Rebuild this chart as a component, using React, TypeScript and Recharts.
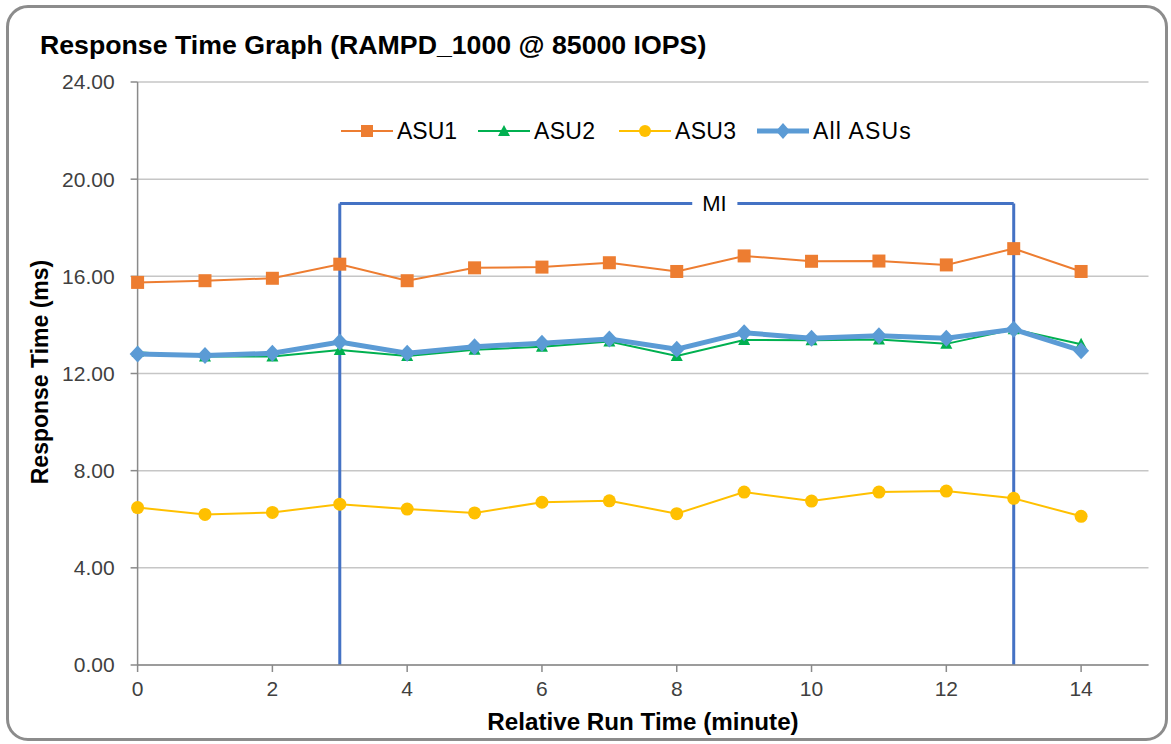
import React from 'react';
import { LineChart, Line, XAxis, YAxis, CartesianGrid, ReferenceLine, ReferenceDot } from 'recharts';

const minutes = [0, 1, 2, 3, 4, 5, 6, 7, 8, 9, 10, 11, 12, 13, 14];
const asu1 = [15.75, 15.82, 15.92, 16.5, 15.82, 16.35, 16.38, 16.56, 16.2, 16.84, 16.62, 16.63, 16.47, 17.14, 16.2];
const asu2 = [12.88, 12.7, 12.7, 12.97, 12.72, 12.98, 13.1, 13.32, 12.72, 13.38, 13.37, 13.4, 13.22, 13.82, 13.2];
const asu3 = [6.48, 6.2, 6.28, 6.62, 6.42, 6.26, 6.7, 6.76, 6.23, 7.12, 6.75, 7.12, 7.16, 6.86, 6.12];
const allAsus = [12.8, 12.74, 12.83, 13.3, 12.83, 13.1, 13.25, 13.42, 13.0, 13.68, 13.45, 13.55, 13.45, 13.82, 12.94];
const yTicks = [0, 4, 8, 12, 16, 20, 24];
const xTicks = [0, 2, 4, 6, 8, 10, 12, 14];
const miStart = 3;
const miEnd = 13;
const miLevel = 19;
const miLabelX = 8.56;
const miGapLeft = 8.23;
const miGapRight = 8.9;

const data = minutes.map((m, i) => ({ m, asu1: asu1[i], asu2: asu2[i], asu3: asu3[i], all: allAsus[i] }));

const C1 = '#ED7D31';
const C2 = '#00B050';
const C3 = '#FFC000';
const C4 = '#5B9BD5';
const CMI = '#4472C4';
const FONT = 'Arial, "Liberation Sans", sans-serif';

const Square = (p: any) => <rect key={`s${p.index}`} x={p.cx - 6.5} y={p.cy - 6.5} width={13} height={13} fill={C1} />;
const Tri = (p: any) => (
  <polygon key={`t${p.index}`} points={`${p.cx},${p.cy - 6.5} ${p.cx + 6},${p.cy + 5} ${p.cx - 6},${p.cy + 5}`} fill={C2} />
);
const Circ = (p: any) => <circle key={`c${p.index}`} cx={p.cx} cy={p.cy} r={6.5} fill={C3} />;
const Diam = (p: any) => (
  <polygon key={`d${p.index}`} points={`${p.cx},${p.cy - 8.5} ${p.cx + 8},${p.cy} ${p.cx},${p.cy + 8.5} ${p.cx - 8},${p.cy}`} fill={C4} />
);

const legendItems = [
  { name: 'ASU1', color: C1, width: 2, marker: 'square', left: 341, spacing: 0 },
  { name: 'ASU2', color: C2, width: 2, marker: 'tri', left: 478, spacing: 0.3 },
  { name: 'ASU3', color: C3, width: 2, marker: 'circle', left: 619, spacing: 0.3 },
  { name: 'All ASUs', color: C4, width: 5, marker: 'diamond', left: 757, spacing: 1.2 },
];

const LegendBox = () => (
  <>
    {legendItems.map((it) => (
      <div
        key={it.name}
        style={{
          position: 'absolute',
          left: it.left,
          top: 120,
          display: 'flex',
          alignItems: 'center',
          fontFamily: FONT,
          fontSize: 23,
          color: '#000',
          whiteSpace: 'nowrap',
        }}
      >
        <svg width={52} height={22}>
          <line x1={0} y1={11} x2={52} y2={11} stroke={it.color} strokeWidth={it.width} />
          {it.marker === 'square' && <rect x={20} y={5} width={12} height={12} fill={it.color} />}
          {it.marker === 'tri' && <polygon points="26,5 32,16 20,16" fill={it.color} />}
          {it.marker === 'circle' && <circle cx={26} cy={11} r={6} fill={it.color} />}
          {it.marker === 'diamond' && <polygon points="26,3 33,11 26,19 19,11" fill={it.color} />}
        </svg>
        <span style={{ marginLeft: 4, lineHeight: '22px', letterSpacing: it.spacing }}>{it.name}</span>
      </div>
    ))}
  </>
);

export default function App() {
  return (
    <div style={{ position: 'absolute', left: 0, top: 0, width: 1171, height: 744, background: '#fff', overflow: 'hidden' }}>
      <div
        style={{
          position: 'absolute',
          left: 6,
          top: 5,
          width: 1162,
          height: 736,
          border: '3px solid #8c8c8c',
          borderRadius: 22,
          boxSizing: 'border-box',
        }}
      />
      <div
        style={{
          position: 'absolute',
          left: 40,
          top: 31,
          fontFamily: FONT,
          fontWeight: 'bold',
          fontSize: 26.7,
          lineHeight: '28px',
          color: '#000',
          whiteSpace: 'nowrap',
        }}
      >
        Response Time Graph (RAMPD_1000 @ 85000 IOPS)
      </div>
      <div
        style={{
          position: 'absolute',
          left: 40,
          top: 372,
          transform: 'translate(-50%, -50%) rotate(-90deg)',
          fontFamily: FONT,
          fontWeight: 'bold',
          fontSize: 23,
          lineHeight: '24px',
          color: '#000',
          whiteSpace: 'nowrap',
        }}
      >
        Response Time (ms)
      </div>
      <div
        style={{
          position: 'absolute',
          left: 643,
          top: 722,
          transform: 'translate(-50%, -50%)',
          fontFamily: FONT,
          fontWeight: 'bold',
          fontSize: 24.2,
          lineHeight: '26px',
          color: '#000',
          whiteSpace: 'nowrap',
        }}
      >
        Relative Run Time (minute)
      </div>
      <div style={{ position: 'absolute', left: 0, top: 0 }}>
        <LineChart width={1171} height={744} data={data} margin={{ top: 82, right: 22.5, bottom: 49, left: 77.6 }}>
          <CartesianGrid horizontal vertical={false} stroke="#c6c6c6" strokeWidth={1.5} />
          <XAxis
            dataKey="m"
            type="number"
            domain={[0, 15]}
            ticks={xTicks}
            height={30}
            stroke="#8a8a8a"
            strokeWidth={1.5}
            tickSize={7}
            tickMargin={9}
            tick={{ fill: '#404040', fontSize: 21, fontFamily: FONT }}
            allowDecimals={false}
          />
          <YAxis
            type="number"
            domain={[0, 24]}
            ticks={yTicks}
            width={60}
            stroke="#8a8a8a"
            strokeWidth={1.5}
            tickSize={7}
            tickMargin={16}
            tickFormatter={(v: number) => v.toFixed(2)}
            tick={{ fill: '#404040', fontSize: 21, fontFamily: FONT }}
          />
          <ReferenceLine segment={[{ x: miStart, y: 0 }, { x: miStart, y: miLevel }]} stroke={CMI} strokeWidth={3} ifOverflow="visible" />
          <ReferenceLine segment={[{ x: miEnd, y: 0 }, { x: miEnd, y: miLevel }]} stroke={CMI} strokeWidth={3} ifOverflow="visible" />
          <ReferenceLine segment={[{ x: miStart, y: miLevel }, { x: miGapLeft, y: miLevel }]} stroke={CMI} strokeWidth={3} ifOverflow="visible" />
          <ReferenceLine segment={[{ x: miGapRight, y: miLevel }, { x: miEnd, y: miLevel }]} stroke={CMI} strokeWidth={3} ifOverflow="visible" />
          <ReferenceDot
            x={miLabelX}
            y={miLevel}
            r={0}
            fill="none"
            stroke="none"
            label={{ value: 'MI', position: 'center', fill: '#000', fontSize: 22, fontFamily: FONT }}
          />
          <Line dataKey="asu1" name="ASU1" stroke={C1} strokeWidth={2} dot={Square} activeDot={false} isAnimationActive={false} />
          <Line dataKey="asu2" name="ASU2" stroke={C2} strokeWidth={2} dot={Tri} activeDot={false} isAnimationActive={false} />
          <Line dataKey="asu3" name="ASU3" stroke={C3} strokeWidth={2} dot={Circ} activeDot={false} isAnimationActive={false} />
          <Line dataKey="all" name="All ASUs" stroke={C4} strokeWidth={5} dot={Diam} activeDot={false} isAnimationActive={false} />
        </LineChart>
      </div>
      <LegendBox />
    </div>
  );
}
